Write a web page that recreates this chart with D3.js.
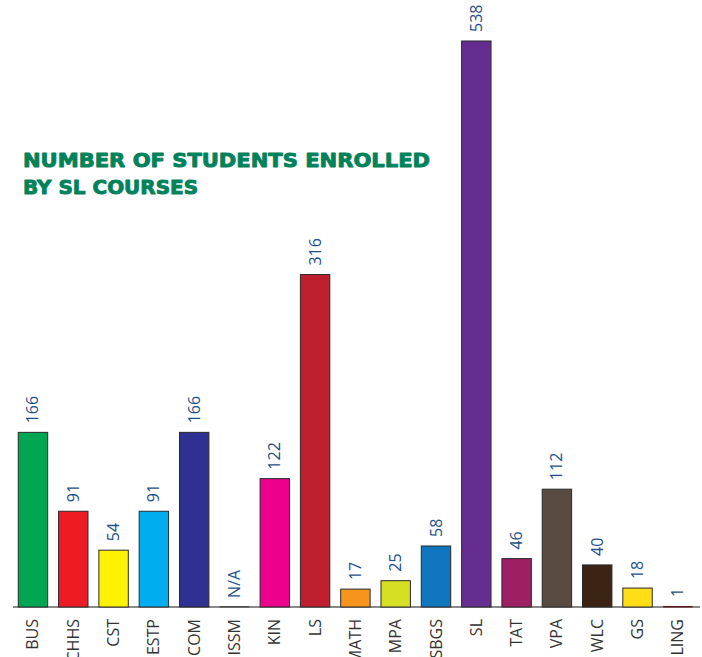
<!DOCTYPE html>
<html><head><meta charset="utf-8">
<script src="https://cdn.jsdelivr.net/npm/d3@7"></script>
<style>
html,body{margin:0;padding:0;background:#fff;overflow:hidden;}
svg{display:block;}
</style></head>
<body>
<svg id="chart" width="702" height="657"></svg>
<script>
const categories = ["BUS","CHHS","CST","ESTP","COM","ISSM","KIN","LS","MATH","MPA","SBGS","SL","TAT","VPA","WLC","GS","LING"];
const values = [166,91,54,91,166,0,122,316,17,25,58,538,46,112,40,18,1];
const valueLabels = ["166","91","54","91","166","N/A","122","316","17","25","58","538","46","112","40","18","1"];
const colors = ["#00a651","#ed1c24","#fff200","#00aeef","#2e3192","#4d4d4d","#ec008c","#be1e2d","#f7941d","#d7df23","#0f75bc","#662d91","#9e1f63","#594a42","#3c2415","#ffde17","#5b1a22"];
const titleLines = ["NUMBER OF STUDENTS ENROLLED","BY SL COURSES"];

const svg = d3.select("#chart");
const baseY = 607;

const x = d3.scaleBand().domain(categories).range([10.2, 700.6]).paddingInner(0.27).paddingOuter(0.2);
const y = d3.scaleLinear().domain([0, 538]).range([baseY, 41]);

// axis line
svg.append("line").attr("x1", 13).attr("x2", 700).attr("y1", baseY).attr("y2", baseY)
  .attr("stroke", "#8a8a8a").attr("stroke-width", 2);

// bars
svg.selectAll("rect.bar").data(categories).join("rect")
  .attr("class","bar")
  .attr("x", d => x(d))
  .attr("width", x.bandwidth())
  .attr("y", (d,i) => y(values[i]) - (values[i] === 0 ? 1 : 0))
  .attr("height", (d,i) => Math.max(1.5, baseY - y(values[i])))
  .attr("fill", (d,i) => colors[i])
  .attr("stroke", (d,i) => values[i] <= 1 ? "none" : "#2a2a2a")
  .attr("stroke-width", 1);

// value labels
svg.selectAll("text.val").data(categories).join("text")
  .attr("class","val")
  .attr("transform", (d,i) => `translate(${x(d) + x.bandwidth()/2 + 5.5},${y(values[i]) - 9}) rotate(-90)`)
  .attr("text-anchor","start")
  .attr("font-family","'Open Sans', sans-serif")
  .attr("font-size", 16)
  .attr("fill","#1d4f8a")
  .text((d,i) => valueLabels[i]);

// category labels
svg.selectAll("text.cat").data(categories).join("text")
  .attr("class","cat")
  .attr("transform", d => `translate(${x(d) + x.bandwidth()/2 + 5.5},${619}) rotate(-90)`)
  .attr("text-anchor","end")
  .attr("font-family","'Open Sans', sans-serif")
  .attr("font-size", 16)
  .attr("fill","#333")
  .text(d => d);

// title
const titleWidths = [407, 175];
titleLines.forEach((t,i) => {
  svg.append("text")
    .attr("x", 23).attr("y", 167 + i*26.5)
    .attr("font-family","'DejaVu Sans', sans-serif")
    .attr("font-weight", "bold")
    .attr("font-size", 19)
    .attr("fill","#00825a")
    .attr("stroke","#00825a")
    .attr("stroke-width", 0.9)
    .attr("stroke-linejoin","round")
    .attr("textLength", titleWidths[i])
    .attr("lengthAdjust","spacingAndGlyphs")
    .text(t);
});
</script>
</body></html>
